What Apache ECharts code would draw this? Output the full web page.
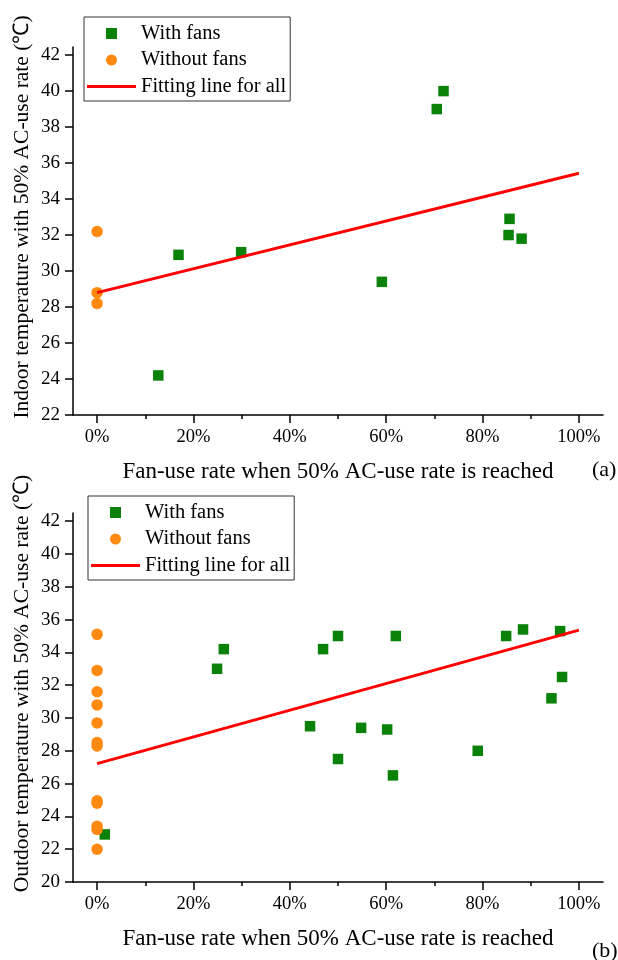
<!DOCTYPE html>
<html>
<head>
<meta charset="utf-8">
<script src="https://cdn.jsdelivr.net/npm/echarts@6/dist/echarts.min.js"></script>
<style>
  html, body { margin: 0; padding: 0; background: #fff; }
  #chart { width: 618px; height: 960px; }
</style>
</head>
<body>
<div id="chart"></div>
<script>
// 刻度
const xMajorTicks = [0, 20, 40, 60, 80, 100];
const xMinorTicks = [10, 30, 50, 70, 90];
const yTicksA = [22, 24, 26, 28, 30, 32, 34, 36, 38, 40, 42];
const yTicksB = [20, 22, 24, 26, 28, 30, 32, 34, 36, 38, 40, 42];

// (a) 室内温度
const withFansA = [
  [12.7, 24.2], [16.9, 30.9], [29.9, 31.05], [59.1, 29.4], [70.5, 39.0],
  [71.9, 40.0], [85.6, 32.9], [85.4, 32.0], [88.1, 31.8]
];
const withoutFansA = [[0, 32.2], [0, 28.8], [0, 28.2]];
const fitA = [[0, 28.8], [100, 35.43]];

// (b) 室外温度
const withFansB = [
  [1.6, 22.9], [24.9, 33.0], [26.3, 34.2], [44.2, 29.5], [46.9, 34.2],
  [50.0, 35.0], [50.0, 27.5], [54.8, 29.4], [60.2, 29.3], [61.4, 26.5],
  [62.0, 35.0], [79.0, 28.0], [84.9, 35.0], [88.4, 35.4], [94.3, 31.2],
  [96.1, 35.3], [96.5, 32.5]
];
const withoutFansB = [
  [0, 35.1], [0, 32.9], [0, 31.6], [0, 30.8], [0, 29.7], [0, 28.5],
  [0, 28.3], [0, 24.95], [0, 24.8], [0, 23.4], [0, 23.2], [0, 22.0]
];
const fitB = [[0, 27.22], [100, 35.36]];

const FONT = 'Liberation Serif, Times New Roman, serif';
const xName = 'Fan-use rate when 50% AC-use rate is reached';

function xAxes (grid) {
  return [
    {
      type: 'value', gridIndex: grid, min: -5, max: 105,
      name: xName, nameLocation: 'middle', nameGap: 45, nameMoveOverlap: false,
      nameTextStyle: { fontFamily: FONT, fontSize: 23, color: '#000' },
      axisLine: { show: true, onZero: false, lineStyle: { color: '#000', width: 1.5 } },
      axisTick: { show: true, customValues: xMajorTicks, length: 8, lineStyle: { color: '#000', width: 1.5 } },
      axisLabel: { customValues: xMajorTicks, margin: 13, fontFamily: FONT, fontSize: 18.5, color: '#000',
        formatter: function (v) { return v + '%'; } },
      splitLine: { show: false }
    },
    {
      // 次刻度
      type: 'value', gridIndex: grid, min: -5, max: 105, position: 'bottom',
      axisLine: { show: false, onZero: false },
      axisTick: { show: true, customValues: xMinorTicks, length: 4, lineStyle: { color: '#000', width: 1.5 } },
      axisLabel: { show: false },
      splitLine: { show: false }
    }
  ];
}

function yAxis (grid, min, max, ticks, name) {
  return {
    type: 'value', gridIndex: grid, min: min, max: max,
    name: name, nameLocation: 'middle', nameGap: 40, nameMoveOverlap: false,
    nameTextStyle: { fontFamily: FONT, fontSize: 21.5, color: '#000', padding: [0, 0, 0, 28] },
    axisLine: { show: true, onZero: false, lineStyle: { color: '#000', width: 1.5 } },
    axisTick: { show: true, customValues: ticks, length: 8, lineStyle: { color: '#000', width: 1.5 } },
    axisLabel: { customValues: ticks, margin: 13, fontFamily: FONT, fontSize: 19, color: '#000' },
    splitLine: { show: false }
  };
}

function legend (left, top) {
  return {
    orient: 'vertical', left: left, top: top,
    borderColor: '#333', borderWidth: 1, padding: [6, 4, 4, 3],
    itemWidth: 49, itemHeight: 11, itemGap: 5.5,
    textStyle: { fontFamily: FONT, fontSize: 20.5, color: '#000', lineHeight: 20.5 },
    data: [
      { name: 'With fans', icon: 'path://M0,0L10,0L10,10L0,10Z' },
      { name: 'Without fans', icon: 'circle' },
      { name: 'Fitting line for all', icon: 'path://M0,0L49,0L49,3L0,3Z' }
    ]
  };
}

function series (idx, withFans, withoutFans, fit) {
  return [
    {
      name: 'With fans', type: 'scatter', xAxisIndex: idx * 2, yAxisIndex: idx,
      symbol: 'rect', symbolSize: 10.5, itemStyle: { color: '#0a820a', opacity: 1 },
      data: withFans
    },
    {
      name: 'Without fans', type: 'scatter', xAxisIndex: idx * 2, yAxisIndex: idx,
      symbol: 'circle', symbolSize: 11.5, itemStyle: { color: '#ff8a0f', opacity: 1 },
      data: withoutFans
    },
    {
      name: 'Fitting line for all', type: 'line', xAxisIndex: idx * 2, yAxisIndex: idx,
      symbol: 'none', lineStyle: { color: '#ff0000', width: 3 }, itemStyle: { color: '#ff0000' },
      data: fit
    }
  ];
}

const myChart = echarts.init(document.getElementById('chart'));
const option = {
  backgroundColor: '#fff',
  animation: false,
  title: [
    { text: '(a)', left: 592, top: 459, textStyle: { fontFamily: FONT, fontSize: 22, fontWeight: 'normal', color: '#000' }, padding: 0 },
    { text: '(b)', left: 592, top: 940, textStyle: { fontFamily: FONT, fontSize: 22, fontWeight: 'normal', color: '#000' }, padding: 0 }
  ],
  legend: [legend(84, 17), legend(88, 496)],
  grid: [
    { left: 73, top: 47, width: 530, height: 368 },
    { left: 73, top: 513, width: 530, height: 369 }
  ],
  xAxis: xAxes(0).concat(xAxes(1)),
  yAxis: [
    yAxis(0, 22, 42.45, yTicksA, 'Indoor temperature with 50% AC-use rate (℃)'),
    yAxis(1, 20, 42.5, yTicksB, 'Outdoor temperature with 50% AC-use rate (℃)')
  ],
  series: series(0, withFansA, withoutFansA, fitA).concat(series(1, withFansB, withoutFansB, fitB))
};
myChart.setOption(option);
window.addEventListener('resize', function () {
  myChart.resize();
});
</script>
</body>
</html>
